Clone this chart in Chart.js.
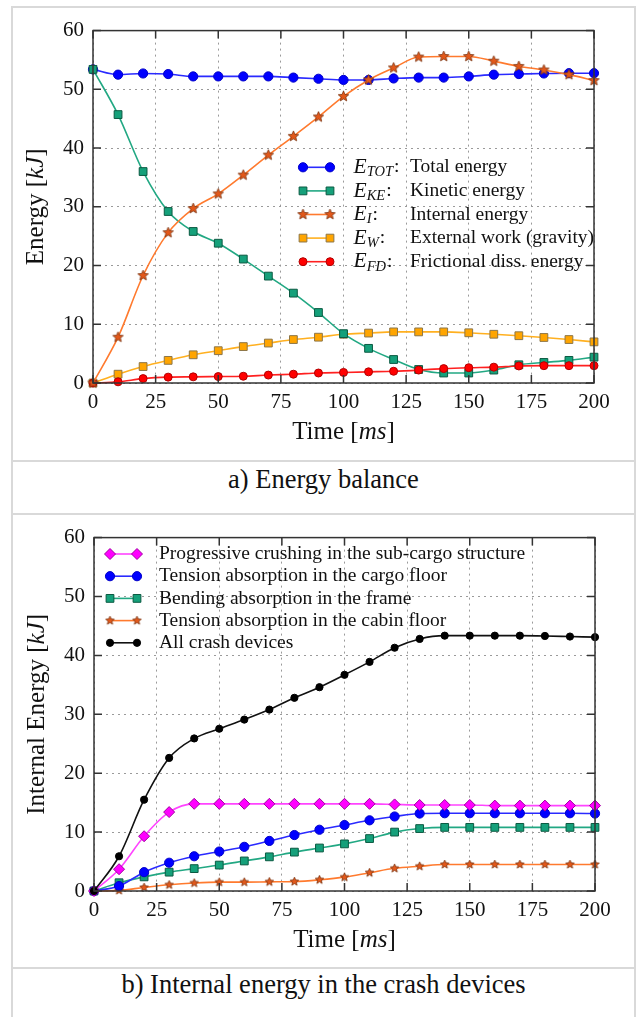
<!DOCTYPE html>
<html>
<head>
<meta charset="utf-8">
<script src="https://cdn.jsdelivr.net/npm/chart.js@4.4.1/dist/chart.umd.min.js"></script>
<style>
  body { margin: 0; background: #fff; width: 638px; height: 1017px; position: relative; overflow: hidden; font-family: "Liberation Serif", serif; }
  .ln { position: absolute; background: #d9d9d9; }
  canvas { position: absolute; }
  .cap { position: absolute; left: 12px; width: 623px; text-align: center; font-size: 26.5px; line-height: 26px; color: #111; }
</style>
</head>
<body>
<div class="ln" style="left:11px;top:6px;width:625px;height:2px"></div>
<div class="ln" style="left:11px;top:6px;width:2px;height:1011px"></div>
<div class="ln" style="left:634px;top:6px;width:2px;height:1011px"></div>
<div class="ln" style="left:11px;top:460px;width:625px;height:2px"></div>
<div class="ln" style="left:11px;top:513px;width:625px;height:2px"></div>
<div class="ln" style="left:11px;top:967px;width:625px;height:2px"></div>

<canvas id="energy_balance" width="620" height="450" style="left:14px;top:9px"></canvas>
<div class="cap" style="top:466px">a) Energy balance</div>
<canvas id="crash_devices" width="620" height="450" style="left:14px;top:516px"></canvas>
<div class="cap" style="top:971px">b) Internal energy in the crash devices</div>

<script>
// time axis [ms]
const times = [0, 10, 20, 30, 40, 50, 60, 70, 80, 90, 100, 110, 120, 130, 140, 150, 160, 170, 180, 190, 200];
const xTickValues = [0, 25, 50, 75, 100, 125, 150, 175, 200];
const yTickValues = [0, 10, 20, 30, 40, 50, 60];

// a) energy balance [kJ]
const totalEnergy = [53.4, 52.5, 52.7, 52.6, 52.2, 52.2, 52.2, 52.2, 52.0, 51.8, 51.6, 51.6, 51.85, 52.0, 52.0, 52.2, 52.5, 52.6, 52.7, 52.75, 52.75];
const kineticEnergy = [53.4, 45.7, 36.0, 29.2, 25.8, 23.8, 21.1, 18.2, 15.3, 12.0, 8.4, 5.9, 4.0, 2.3, 1.7, 1.7, 2.2, 3.1, 3.5, 3.85, 4.4];
const internalEnergy = [0, 7.8, 18.3, 25.6, 29.7, 32.2, 35.4, 38.8, 42.0, 45.3, 48.8, 51.6, 53.65, 55.5, 55.6, 55.6, 54.8, 53.9, 53.3, 52.5, 51.5];
const externalWork = [0, 1.5, 2.8, 3.85, 4.8, 5.5, 6.2, 6.8, 7.4, 7.8, 8.3, 8.5, 8.7, 8.7, 8.7, 8.55, 8.3, 8.05, 7.75, 7.4, 7.0];
const frictionalEnergy = [0, 0.2, 0.75, 1.0, 1.05, 1.1, 1.15, 1.35, 1.5, 1.7, 1.8, 1.9, 2.0, 2.2, 2.45, 2.6, 2.7, 2.9, 2.95, 2.95, 2.95];
const balanceSymbols = ["TOT", "KE", "I", "W", "FD"];
const balanceNames = ["Total energy", "Kinetic energy", "Internal energy", "External work (gravity)", "Frictional diss. energy"];

// b) internal energy in the crash devices [kJ]
const subCargoCrushing = [0, 3.7, 9.3, 13.4, 14.8, 14.8, 14.8, 14.8, 14.8, 14.8, 14.8, 14.8, 14.7, 14.6, 14.6, 14.6, 14.5, 14.5, 14.5, 14.5, 14.5];
const cargoFloorTension = [0, 0.85, 3.2, 4.8, 5.9, 6.7, 7.5, 8.5, 9.5, 10.4, 11.2, 12.0, 12.65, 13.15, 13.2, 13.2, 13.2, 13.2, 13.2, 13.2, 13.15];
const frameBending = [0, 1.4, 2.4, 3.2, 3.8, 4.4, 5.1, 5.8, 6.6, 7.3, 8.0, 8.9, 10.0, 10.6, 10.8, 10.8, 10.8, 10.8, 10.8, 10.8, 10.8];
const cabinFloorTension = [0, 0.1, 0.6, 1.05, 1.35, 1.5, 1.5, 1.55, 1.6, 1.9, 2.35, 3.1, 3.85, 4.2, 4.5, 4.5, 4.5, 4.5, 4.5, 4.5, 4.5];
const allCrashDevices = [0, 5.9, 15.5, 22.6, 25.9, 27.55, 29.1, 30.8, 32.8, 34.6, 36.7, 38.9, 41.3, 42.8, 43.35, 43.35, 43.35, 43.35, 43.3, 43.2, 43.1];
const deviceNames = ["Progressive crushing in the sub-cargo structure", "Tension absorption in the cargo floor", "Bending absorption in the frame", "Tension absorption in the cabin floor", "All crash devices"];

const SERIF = "'Liberation Serif', 'DejaVu Serif', serif";

function makeStar(size, fill, stroke) {
  const c = document.createElement("canvas");
  c.width = size + 2; c.height = size + 2;
  const g = c.getContext("2d");
  const cx = c.width / 2, cy = c.height / 2, R = size / 2, r = R * 0.45;
  g.beginPath();
  for (let i = 0; i < 10; i++) {
    const a = -Math.PI / 2 + i * Math.PI / 5;
    const rr = i % 2 ? r : R;
    g.lineTo(cx + rr * Math.cos(a), cy + rr * Math.sin(a));
  }
  g.closePath();
  g.fillStyle = fill; g.fill();
  g.lineWidth = 0.8; g.strokeStyle = stroke; g.stroke();
  return c;
}

function drawMarker(ctx, ds, x, y) {
  const st = ds.pointStyle, r = ds.pointRadius;
  if (st instanceof HTMLCanvasElement) {
    ctx.drawImage(st, x - st.width / 2, y - st.height / 2);
    return;
  }
  ctx.beginPath();
  if (st === "rect") {
    const s = Math.SQRT1_2 * r;
    ctx.rect(x - s, y - s, 2 * s, 2 * s);
  } else if (st === "rectRot") {
    ctx.moveTo(x - r, y); ctx.lineTo(x, y - r); ctx.lineTo(x + r, y); ctx.lineTo(x, y + r); ctx.closePath();
  } else {
    ctx.arc(x, y, r, 0, Math.PI * 2);
  }
  ctx.fillStyle = ds.pointBackgroundColor; ctx.fill();
  ctx.lineWidth = ds.pointBorderWidth; ctx.strokeStyle = ds.pointBorderColor; ctx.stroke();
}

// runs: [text, italic, size, dy]
function runsWidth(ctx, runs) {
  let w = 0;
  runs.forEach(r => { ctx.font = (r[1] ? "italic " : "") + r[2] + "px " + SERIF; w += ctx.measureText(r[0]).width; });
  return w;
}
function drawRuns(ctx, runs, x, y) {
  runs.forEach(r => {
    ctx.font = (r[1] ? "italic " : "") + r[2] + "px " + SERIF;
    ctx.fillText(r[0], x, y + (r[3] || 0));
    x += ctx.measureText(r[0]).width;
  });
  return x;
}

const decor = {
  id: "decor",
  afterDatasetsDraw(chart) {
    const { ctx, chartArea: a, scales: { x, y } } = chart;
    ctx.save();
    ctx.strokeStyle = "#333";
    ctx.lineWidth = 1.5;
    ctx.beginPath();
    x.ticks.forEach(t => {
      const px = x.getPixelForValue(t.value);
      ctx.moveTo(px, a.bottom); ctx.lineTo(px, a.bottom - 8);
      ctx.moveTo(px, a.top); ctx.lineTo(px, a.top + 8);
    });
    y.ticks.forEach(t => {
      const py = y.getPixelForValue(t.value);
      ctx.moveTo(a.left, py); ctx.lineTo(a.left + 8, py);
      ctx.moveTo(a.right, py); ctx.lineTo(a.right - 8, py);
    });
    ctx.stroke();
    ctx.strokeRect(a.left, a.top, a.right - a.left, a.bottom - a.top);
    ctx.restore();
  },
  afterDraw(chart) {
    const o = chart.options.plugins.decor;
    const { ctx, chartArea: a } = chart;
    ctx.save();
    ctx.fillStyle = "#111";
    ctx.textBaseline = "middle";
    ctx.textAlign = "left";
    // axis titles
    const xr = o.xTitle;
    drawRuns(ctx, xr, (a.left + a.right) / 2 - runsWidth(ctx, xr) / 2, a.bottom + 49);
    const yr = o.yTitle;
    ctx.save();
    ctx.translate(a.left - 57, (a.top + a.bottom) / 2);
    ctx.rotate(-Math.PI / 2);
    drawRuns(ctx, yr, -runsWidth(ctx, yr) / 2, 0);
    ctx.restore();
    // legend
    const L = o.legend;
    chart.data.datasets.forEach((ds, i) => {
      const yy = L.y0 + i * L.step;
      ctx.strokeStyle = ds.borderColor;
      ctx.lineWidth = ds.borderWidth;
      ctx.beginPath(); ctx.moveTo(L.x0, yy); ctx.lineTo(L.x1, yy); ctx.stroke();
      drawMarker(ctx, ds, L.x0, yy);
      drawMarker(ctx, ds, L.x1, yy);
      ctx.fillStyle = "#111";
      if (L.symbols) {
        const ex = drawRuns(ctx, [["E", true, 21.5, 0], [L.symbols[i], true, 14.5, 5]], L.symX, yy);
        drawRuns(ctx, [[":", false, 19.5, 0]], ex + 1, yy);
      }
      drawRuns(ctx, [[L.names[i], false, 19.5, 0]], L.textX, yy);
    });
    ctx.restore();
  }
};

function lineSet(label, data, line, fill, edge, style, radius, order) {
  return {
    label: label,
    data: data.map((v, i) => ({ x: times[i], y: v })),
    borderColor: line,
    borderWidth: 1.6,
    pointStyle: style,
    pointRadius: radius,
    pointHoverRadius: radius,
    pointBackgroundColor: fill,
    pointBorderColor: edge,
    pointBorderWidth: 1,
    cubicInterpolationMode: "monotone",
    clip: false,
    order: order
  };
}

function scales(yWidth, xHeight) {
  const tickFont = { family: SERIF, size: 21 };
  return {
    x: {
      type: "linear", min: 0, max: 200,
      afterBuildTicks: s => { s.ticks = xTickValues.map(v => ({ value: v })); },
      afterFit: s => { s.height = xHeight; },
      grid: { color: "#9a9a9a", lineWidth: 1, drawTicks: false },
      border: { display: false, dash: [2, 4] },
      ticks: { padding: 7, font: tickFont, color: "#111", maxRotation: 0 }
    },
    y: {
      type: "linear", min: 0, max: 60,
      afterBuildTicks: s => { s.ticks = yTickValues.map(v => ({ value: v })); },
      afterFit: s => { s.width = yWidth; },
      grid: { color: "#9a9a9a", lineWidth: 1, drawTicks: false },
      border: { display: false, dash: [2, 4] },
      ticks: { padding: 9, font: tickFont, color: "#111" }
    }
  };
}

const starA = makeStar(11, "#e2581a", "#7a3410");
const starB = makeStar(9, "#e2581a", "#7a3410");
const titleX = [["Time [", false, 25], ["ms", true, 25], ["]", false, 25]];

new Chart(document.getElementById("energy_balance").getContext("2d"), {
  type: "line",
  data: {
    datasets: [
      lineSet("E_TOT", totalEnergy, "#2a2aff", "#0000ff", "#0000c8", "circle", 4.6, 5),
      lineSet("E_KE", kineticEnergy, "#22a883", "#15a07a", "#0b5a42", "rect", 5.5, 3),
      lineSet("E_I", internalEnergy, "#ff7a2e", "#e2581a", "#7a3410", starA, 5, 1),
      lineSet("E_W", externalWork, "#ffb020", "#ffa500", "#8c7648", "rect", 5.5, 4),
      lineSet("E_FD", frictionalEnergy, "#ff2020", "#ff0000", "#b00000", "circle", 4, 2)
    ]
  },
  options: {
    responsive: false,
    animation: false,
    layout: { padding: { left: 0, right: 40, top: 20.5, bottom: 0 } },
    scales: scales(79, 76),
    plugins: {
      legend: { display: false },
      tooltip: { enabled: false },
      decor: {
        xTitle: titleX,
        yTitle: [["Energy [", false, 25], ["kJ", true, 25], ["]", false, 25]],
        legend: { x0: 289, x1: 316, y0: 158.3, step: 23.6, symX: 339.5, textX: 396, symbols: balanceSymbols, names: balanceNames }
      }
    }
  },
  plugins: [decor]
});

new Chart(document.getElementById("crash_devices").getContext("2d"), {
  type: "line",
  data: {
    datasets: [
      lineSet("crushing", subCargoCrushing, "#ff44ff", "#ff00ff", "#a000a0", "rectRot", 5.5, 2),
      lineSet("cargo floor", cargoFloorTension, "#2a2aff", "#0000ff", "#0000c8", "circle", 4.6, 3),
      lineSet("frame", frameBending, "#22a883", "#15a07a", "#0b5a42", "rect", 5.5, 4),
      lineSet("cabin floor", cabinFloorTension, "#ff7a2e", "#e2581a", "#7a3410", starB, 4, 5),
      lineSet("all", allCrashDevices, "#111111", "#000000", "#000000", "circle", 3.6, 1)
    ]
  },
  options: {
    responsive: false,
    animation: false,
    layout: { padding: { left: 0, right: 39, top: 21, bottom: 0 } },
    scales: scales(80, 75),
    plugins: {
      legend: { display: false },
      tooltip: { enabled: false },
      decor: {
        xTitle: titleX,
        yTitle: [["Internal Energy [", false, 25], ["kJ", true, 25], ["]", false, 25]],
        legend: { x0: 96, x1: 123, y0: 38, step: 22.2, textX: 145, names: deviceNames }
      }
    }
  },
  plugins: [decor]
});
</script>
</body>
</html>
